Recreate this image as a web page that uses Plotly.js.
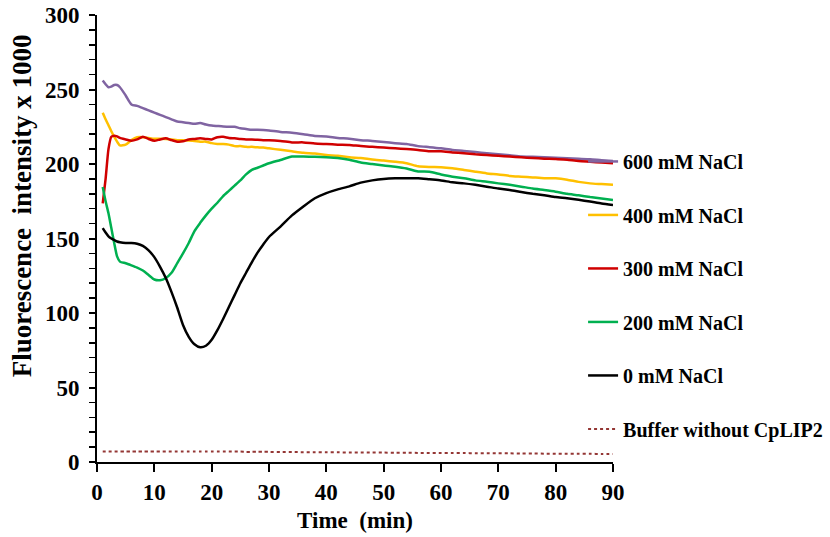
<!DOCTYPE html>
<html>
<head>
<meta charset="utf-8">
<script src="https://cdn.plot.ly/plotly-3.0.1.min.js"></script>
<style>html,body{margin:0;padding:0;background:#fff;}#chart{width:830px;height:537px;}</style>
</head>
<body>
<div id="chart"></div>
<script>
const time = [1,1.5,2,2.5,3,3.5,4,5,6,7,8,9,10,11,12,13,14,15,16,17,18,19,20,21,22,23,24,25,26,27,28,29,30,32,34,36,38,40,42,44,46,48,50,52,54,56,58,60,62,64,66,68,70,72,74,76,78,80,82,84,86,88,90];

const nacl600 = [256,253.5,251.5,252,253,253,251.5,246,240,239,237.5,236,234.5,233,231.5,230,228.5,228,227.5,227,227.5,226.5,225.8,225.5,225.2,225,225,224,223.5,223,223,222.8,222.5,221.5,221,220,218.8,218.5,217.5,217,216,215.5,214.8,214,213.4,212,211.3,210.5,209.4,208.8,208,207.2,206.5,205.8,205,204.8,204.5,204.2,203.8,203.5,203.2,202.5,202];

const nacl400 = [234.4,230,226,222,218.3,215,212.5,213,216,218,218,217.5,217,217,216.8,216.5,216,216,215.8,215.5,215,215,214,213.5,213.4,213,212,212,211.5,211.5,211.2,211,210.5,209.5,208.5,207.5,207,206,205.5,204.5,204,203,202.3,201.5,200.5,198.5,198,197.8,197.1,196,194.8,193.7,193,192,191.5,191,190.5,190.4,189.5,188,187,186.5,186];

const nacl300 = [173.6,190,210,218.3,219,218.5,217.5,216.5,215.6,216.5,218.3,216.8,215.6,216.5,217.2,216,215,215.2,216.5,216.8,217.2,216.8,216.5,218,218.3,217.5,217.2,216.8,216.5,216.5,216.2,216,216,215.5,214.5,214.5,213.8,213.4,213,212.8,212,211.5,211,210.5,210,209.4,208.5,208.5,207.8,207.2,206.5,206,205.5,205,204.5,204,203.6,203.4,202.8,202,201.5,201,200.5];

const nacl200 = [184.6,175,167,157,147,138,134.5,133.4,132,130.5,128.5,125.5,122.5,122,123.5,127,133.5,140,147,155,160.5,165.5,170,174,178.5,182,185.5,189,193,196,197.5,199,200.5,202.7,205,205,204.8,204.5,204,202.8,201,200,199,198.2,197,195,194.8,193,191.5,190.5,189,188.1,187,186,184.8,183.5,182.5,181.4,180,179,177.8,176.8,175.8];

const nacl0 = [157,154,151.5,150,149,148,147.5,147,147,146.5,145,142,137.5,131,123.5,114,103.5,92,84,79,77,78,82,88.5,96,104,112,120,127,134,140.5,146,151,158,165.5,171.5,177,180.5,183,185,187.5,189,190,190.4,190.4,190.4,189.7,189,187.7,187,186,184.8,183.5,182.5,181.2,180,179,177.8,177,176,174.8,173.5,172.5];

const buffer = [7,7,7,7,7,7,7,7,7,7,7,7,7,7,7,7,7,7,7,7,7,7,7,7,7,7,7,7,6.8,6.8,6.8,6.8,6.8,6.7,6.7,6.6,6.6,6.5,6.5,6.4,6.4,6.3,6.3,6.2,6.2,6.1,6.1,6,6,6,5.9,5.9,5.8,5.8,5.7,5.7,5.6,5.6,5.5,5.5,5.5,5.4,5.4];

const seriesNames = ["600 mM NaCl","400 mM NaCl","300 mM NaCl","200 mM NaCl","0 mM NaCl","Buffer without CpLIP2"];
const seriesValues = [nacl600, nacl400, nacl300, nacl200, nacl0, buffer];
const seriesColors = ["#8064A2","#FFC000","#D00000","#00B050","#000000","#943634"];
const seriesDash = ["solid","solid","solid","solid","solid","dot"];

const xTicks = [0,10,20,30,40,50,60,70,80,90];
const yTicks = [0,50,100,150,200,250,300];
const xTitle = "Time\u00A0\u00A0(min)";
const yTitle = "Fluorescence\u00A0\u00A0intensity x 1000";

const FONT = "Liberation Serif, Times New Roman, serif";

const traces = seriesNames.map((name, i) => ({
  type: "scatter",
  mode: "lines",
  name: name,
  x: time,
  y: seriesValues[i],
  legendgroup: "g" + i,
  line: {color: seriesColors[i], width: i === 5 ? 2 : 2.5, dash: seriesDash[i], shape: "spline", smoothing: 0.6},
  hoverinfo: "x+y+name"
}));

const layout = {
  width: 830,
  height: 537,
  margin: {l: 97, r: 217, t: 15, b: 75, pad: 0, autoexpand: false},
  paper_bgcolor: "#ffffff",
  plot_bgcolor: "#ffffff",
  showlegend: true,
  legend: {
    x: 0.942, xanchor: "left",
    y: 0.716, yanchor: "top",
    bgcolor: "rgba(0,0,0,0)",
    font: {family: FONT, size: 20, color: "#000", weight: "bold"},
    tracegroupgap: 24.5,
    traceorder: "grouped",
    itemwidth: 30
  },
  xaxis: {
    range: [0, 90],
    tickvals: xTicks,
    ticktext: xTicks.map(String),
    ticks: "outside",
    ticklen: 8,
    tickwidth: 2,
    tickcolor: "#000",
    showline: true,
    linecolor: "#000",
    linewidth: 2,
    showgrid: false,
    zeroline: false,
    tickfont: {family: FONT, size: 23, color: "#000", weight: "bold"},
    title: {text: xTitle, font: {family: FONT, size: 23, color: "#000", weight: "bold"}, standoff: 8},
    automargin: false
  },
  yaxis: {
    range: [0, 300],
    tickvals: yTicks,
    ticktext: yTicks.map(String),
    ticks: "outside",
    ticklen: 6,
    tickwidth: 2,
    tickcolor: "#000",
    ticklabelstandoff: 5,
    minor: {dtick: 10, tick0: 0, ticks: "outside", ticklen: 6, tickwidth: 1.5, tickcolor: "#000", showgrid: false},
    showline: true,
    linecolor: "#000",
    linewidth: 2,
    showgrid: false,
    zeroline: false,
    tickfont: {family: FONT, size: 23, color: "#000", weight: "bold"},
    automargin: false
  },
  annotations: [{
    text: yTitle,
    xref: "paper", yref: "paper",
    x: -0.1453, y: 0.572,
    xanchor: "center", yanchor: "middle",
    textangle: -90,
    showarrow: false,
    font: {family: FONT, size: 27, color: "#000", weight: "bold"}
  }]
};

Plotly.newPlot("chart", traces, layout, {displayModeBar: false, staticPlot: true});
</script>
</body>
</html>
